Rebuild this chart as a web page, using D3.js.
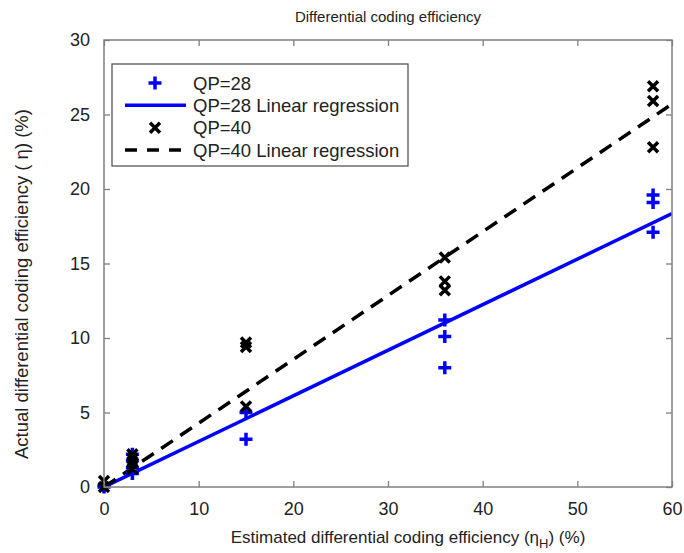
<!DOCTYPE html>
<html lang="en">
<head>
  <meta charset="utf-8" />
  <title>Differential coding efficiency</title>
  <script src="https://cdn.jsdelivr.net/npm/d3@7"></script>
  <style>
body { margin: 0; background: white; }
text { font-family: "Liberation Sans", Arial, sans-serif; fill: #222; }
  </style>
</head>
<body>
<script>

// estimated efficiency (x) for each group of measurements
var qp28X = [0, 0, 3, 3, 3, 3, 15, 15, 36, 36, 36, 58, 58, 58];
var qp28Y = [0, 0.1, 0.9, 1.3, 1.8, 2.2, 3.2, 5.0, 8.0, 10.1, 11.2, 17.1, 19.1, 19.6];
var qp40X = [0, 0, 3, 3, 3, 3, 15, 15, 15, 36, 36, 36, 58, 58, 58];
var qp40Y = [0, 0.4, 1.2, 1.6, 1.9, 2.2, 5.4, 9.4, 9.7, 13.2, 13.8, 15.4, 22.8, 25.9, 26.9];
// regression line end points [x, y]
var qp28Fit = [[0, 0], [60, 18.35]];
var qp40Fit = [[0, 0], [60, 25.7]];
var xTicks = [0, 10, 20, 30, 40, 50, 60];
var yTicks = [0, 5, 10, 15, 20, 25, 30];
var legendLabels = ["QP=28", "QP=28 Linear regression", "QP=40", "QP=40 Linear regression"];

var w = 684, h = 553;
var pad = { left: 104, right: 12, top: 40, bottom: 66 };
var axisColor = "#808080";
var blue = "#0000ff";

var svg = d3.select("body").append("svg")
    .attr("width", w)
    .attr("height", h);

var x = d3.scaleLinear().domain([0, 60]).range([pad.left, w - pad.right]);
var y = d3.scaleLinear().domain([0, 30]).range([h - pad.bottom, pad.top]);

// title
svg.append("text")
    .attr("x", (x(0) + x(60)) / 2)
    .attr("y", 22)
    .attr("text-anchor", "middle")
    .style("font-size", "15px")
    .text("Differential coding efficiency");

// clip so regression lines stay in the box
svg.append("clipPath").attr("id", "clip")
  .append("rect")
    .attr("x", x(0)).attr("y", y(30))
    .attr("width", x(60) - x(0)).attr("height", y(0) - y(30));

var plot = svg.append("g").attr("clip-path", "url(#clip)");

var line = d3.line().x(function(d) { return x(d[0]); }).y(function(d) { return y(d[1]); });

plot.append("path")
    .attr("d", line(qp28Fit))
    .attr("stroke", blue)
    .attr("stroke-width", 3.5)
    .attr("fill", "none");

plot.append("path")
    .attr("d", line(qp40Fit))
    .attr("stroke", "black")
    .attr("stroke-width", 3.5)
    .attr("stroke-dasharray", "14,9")
    .attr("fill", "none");

var plusPath = "M-6.5,0H6.5M0,-6.5V6.5";
var crossPath = "M-5,-5L5,5M-5,5L5,-5";

svg.append("g").selectAll("path")
    .data(d3.range(qp28X.length))
  .enter().append("path")
    .attr("transform", function(i) { return "translate(" + x(qp28X[i]) + "," + y(qp28Y[i]) + ")"; })
    .attr("d", plusPath)
    .attr("stroke", blue)
    .attr("stroke-width", 3.5)
    .attr("fill", "none");

svg.append("g").selectAll("path")
    .data(d3.range(qp40X.length))
  .enter().append("path")
    .attr("transform", function(i) { return "translate(" + x(qp40X[i]) + "," + y(qp40Y[i]) + ")"; })
    .attr("d", crossPath)
    .attr("stroke", "black")
    .attr("stroke-width", 3.5)
    .attr("fill", "none");

// axes, matlab style box with inward ticks on all sides
function styleAxis(g) {
  g.select(".domain").remove();
  g.selectAll(".tick line").attr("stroke", axisColor).attr("stroke-width", 1.3);
  g.selectAll(".tick text")
      .style("font-size", "18px")
      .style("font-family", "Liberation Sans, Arial, sans-serif")
      .attr("fill", "#222");
}

svg.append("g")
    .attr("transform", "translate(0," + y(0) + ")")
    .call(d3.axisBottom(x).tickValues(xTicks).tickSize(-6).tickPadding(15))
    .call(styleAxis);
svg.append("g")
    .attr("transform", "translate(0," + y(30) + ")")
    .call(d3.axisTop(x).tickValues(xTicks).tickSize(-6).tickFormat(""))
    .call(styleAxis);
svg.append("g")
    .attr("transform", "translate(" + x(0) + ",0)")
    .call(d3.axisLeft(y).tickValues(yTicks).tickSize(-6).tickPadding(14))
    .call(styleAxis);
svg.append("g")
    .attr("transform", "translate(" + x(60) + ",0)")
    .call(d3.axisRight(y).tickValues(yTicks).tickSize(-6).tickFormat(""))
    .call(styleAxis);

svg.append("rect")
    .attr("x", x(0)).attr("y", y(30))
    .attr("width", x(60) - x(0)).attr("height", y(0) - y(30))
    .attr("fill", "none")
    .attr("stroke", axisColor)
    .attr("stroke-width", 1.5);

// axis labels
var xl = svg.append("text")
    .attr("x", 408)
    .attr("y", 543)
    .attr("text-anchor", "middle")
    .style("font-size", "17px");
xl.append("tspan").text("Estimated differential coding efficiency (\u03b7");
xl.append("tspan").attr("dy", 5).style("font-size", "13px").text("H");
xl.append("tspan").attr("dy", -5).text(") (%)");

svg.append("text")
    .attr("transform", "translate(28,284) rotate(-90)")
    .attr("text-anchor", "middle")
    .style("font-size", "18.5px")
    .text("Actual differential coding efficiency ( \u03b7) (%)");

// legend
var lg = svg.append("g").attr("transform", "translate(112,64)");
lg.append("rect")
    .attr("width", 296).attr("height", 102)
    .attr("fill", "white")
    .attr("stroke", "#555")
    .attr("stroke-width", 1.3);

var rowY = d3.scalePoint().domain(d3.range(4)).range([19, 86]);

lg.append("path")
    .attr("transform", "translate(43," + rowY(0) + ")")
    .attr("d", plusPath).attr("stroke", blue).attr("stroke-width", 3.5);
lg.append("line")
    .attr("x1", 13).attr("x2", 74).attr("y1", rowY(1)).attr("y2", rowY(1))
    .attr("stroke", blue).attr("stroke-width", 3.5);
lg.append("path")
    .attr("transform", "translate(43," + rowY(2) + ")")
    .attr("d", crossPath).attr("stroke", "black").attr("stroke-width", 3.5);
lg.append("line")
    .attr("x1", 13).attr("x2", 74).attr("y1", rowY(3)).attr("y2", rowY(3))
    .attr("stroke", "black").attr("stroke-width", 3.5)
    .attr("stroke-dasharray", "12,10");

lg.selectAll("text.lab")
    .data(legendLabels)
  .enter().append("text")
    .attr("class", "lab")
    .attr("x", 81)
    .attr("y", function(d, i) { return rowY(i) + 6.5; })
    .style("font-size", "18.5px")
    .text(function(d) { return d; });

</script>
</body>
</html>
